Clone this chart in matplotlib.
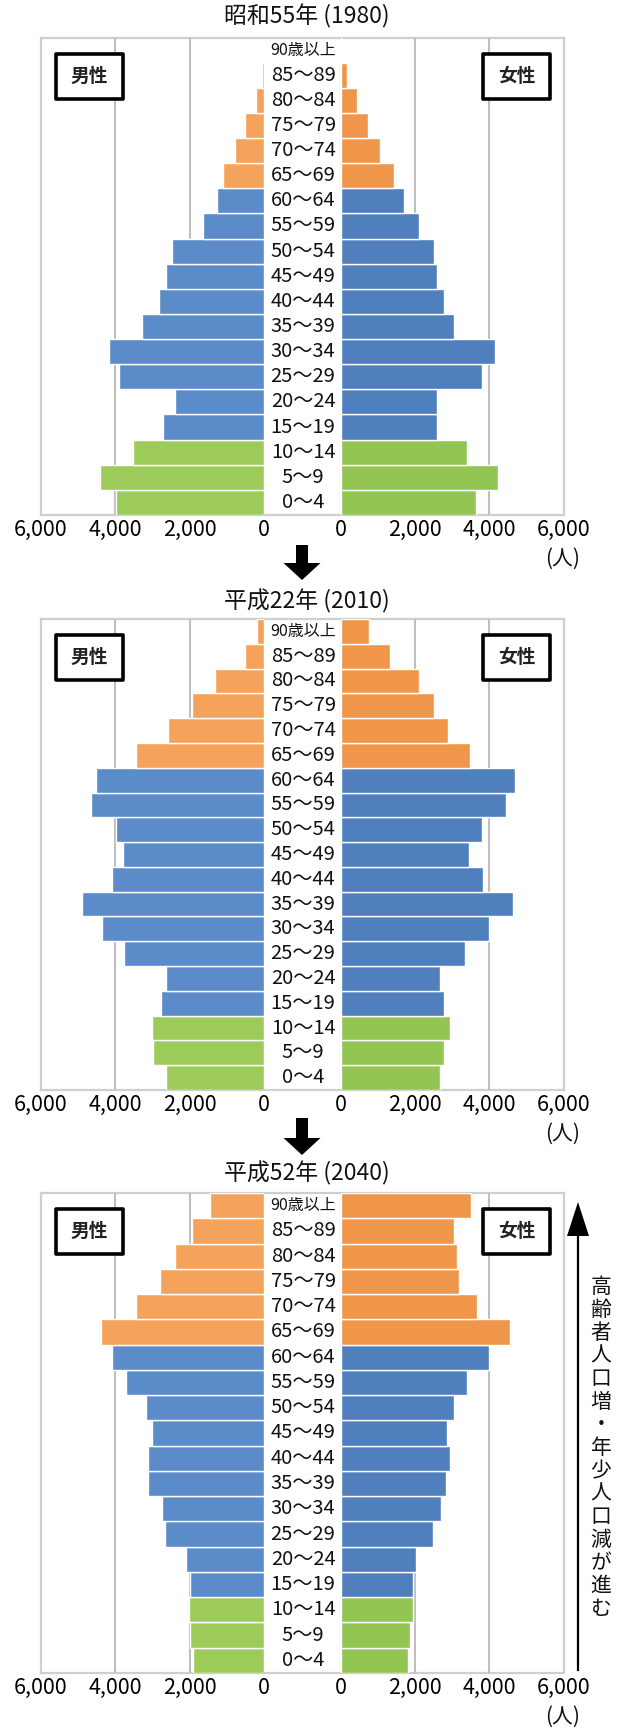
import matplotlib
matplotlib.use("Agg")
import matplotlib.pyplot as plt
from matplotlib.patches import Rectangle, Polygon
from matplotlib.transforms import blended_transform_factory

plt.rcParams['font.family'] = ['Noto Sans CJK JP', 'DejaVu Sans']

# ---------------- data ----------------
ages = ["0～4", "5～9", "10～14", "15～19", "20～24", "25～29", "30～34", "35～39",
        "40～44", "45～49", "50～54", "55～59", "60～64", "65～69", "70～74",
        "75～79", "80～84", "85～89", "90歳以上"]

titles = ["昭和55年 (1980)", "平成22年 (2010)", "平成52年 (2040)"]

male_1980 = [3970, 4390, 3530, 2710, 2390, 3890, 4170, 3280, 2820, 2620,
             2460, 1650, 1260, 1090, 790, 500, 210, 50, 10]
female_1980 = [3640, 4230, 3390, 2580, 2580, 3790, 4140, 3050, 2770, 2580,
               2520, 2110, 1710, 1420, 1060, 740, 420, 170, 30]

male_2010 = [2630, 2980, 3010, 2770, 2630, 3760, 4340, 4880, 4090, 3780,
             3970, 4640, 4500, 3440, 2590, 1940, 1310, 510, 190]
female_2010 = [2670, 2780, 2940, 2780, 2670, 3350, 3990, 4630, 3840, 3450,
               3800, 4440, 4700, 3480, 2890, 2520, 2090, 1330, 760]

male_2040 = [1900, 1990, 2010, 2000, 2090, 2650, 2750, 3110, 3110, 3010,
             3180, 3700, 4070, 4370, 3440, 2790, 2390, 1940, 1440]
female_2040 = [1800, 1870, 1930, 1930, 2020, 2490, 2700, 2840, 2950, 2860,
               3040, 3400, 3980, 4550, 3680, 3180, 3120, 3040, 3510]

male_data = [male_1980, male_2010, male_2040]
female_data = [female_1980, female_2010, female_2040]

xticks = [0, 2000, 4000, 6000]
xtick_labels = ["0", "2,000", "4,000", "6,000"]

side_note = "高齢者人口増・年少人口減が進む"

# ---------------- style ----------------
male_colors = {"young": "#9DCB5A", "work": "#5B8BC8", "old": "#F5A25A"}
female_colors = {"young": "#93C552", "work": "#4F80BD", "old": "#F0964A"}


def group(i):
    if i <= 2:
        return "young"
    if i <= 12:
        return "work"
    return "old"


W, H = 619, 1732
fig = plt.figure(figsize=(W / 100, H / 100), dpi=100)
inch = fig.dpi_scale_trans


def P(x, y):
    return (x / 100, (H - y) / 100)


def add_ax(x0, y0, x1, y1, **kw):
    return fig.add_axes([x0 / W, 1 - y1 / H, (x1 - x0) / W, (y1 - y0) / H], **kw)


box_left, box_right = 40.5, 563.5
male_zero, female_zero = 264, 341
tops = [37.5, 619, 1193]
bottoms = [515, 1090, 1673]
title_y = [16, 601, 1173]
grid_c = "#BFBFBF"
border_c = "#CFCFCF"

for k in range(3):
    top, bot = tops[k], bottoms[k]
    # background box
    bg = add_ax(box_left, top, box_right, bot)
    bg.set_xticks([]); bg.set_yticks([])
    for s in bg.spines.values():
        s.set_color(border_c); s.set_linewidth(1.6)
    bg.set_zorder(0)

    axm = add_ax(box_left, top, male_zero, bot)
    axf = add_ax(female_zero, top, box_right, bot)
    for ax, vals, cols in ((axm, male_data[k], male_colors), (axf, female_data[k], female_colors)):
        ax.patch.set_alpha(0)
        ax.set_zorder(1)
        for s in ax.spines.values():
            s.set_visible(False)
        ax.set_ylim(-0.5, len(ages) - 0.5)
        ax.set_yticks([])
        colors = [cols[group(i)] for i in range(len(ages))]
        ax.barh(range(len(ages)), vals, height=1.0, color=colors,
                edgecolor="white", linewidth=1.0, zorder=2)
        for g in (2000, 4000):
            ax.axvline(g, color=grid_c, lw=1.5, zorder=1)
        ax.set_xticks(xticks)
        ax.set_xticklabels(xtick_labels, fontsize=15.5)
        ax.tick_params(axis="x", length=0, pad=3)
    axm.set_xlim(6000, 0)
    axf.set_xlim(0, 6000)

    # age labels in centre column
    tr = blended_transform_factory(fig.transFigure, axm.transData)
    for i, lab in enumerate(ages):
        fs = 11.5 if i == len(ages) - 1 else 14.5
        fig.text((male_zero + female_zero) / 2 / W + 0.001, i, lab, transform=tr,
                 ha="center", va="center", fontsize=fs, color="#111111")

    # title
    fig.text(307 / W, 1 - title_y[k] / H, titles[k], ha="center", va="center",
             fontsize=16.5, color="#111111")

    # unit
    fig.text(563 / W, 1 - (bot + 44) / H, "(人)", ha="center", va="center",
             fontsize=15, color="#111111")

    # sex label boxes
    for (x0, x1, lab) in ((56, 123, "男性"), (483, 550, "女性")):
        y0, y1 = top + 16, top + 61
        r = Rectangle(P(x0, y1), (x1 - x0) / 100, (y1 - y0) / 100, transform=inch,
                      facecolor="white", edgecolor="black", linewidth=2.6,
                      joinstyle="round", zorder=5)
        fig.add_artist(r)
        fig.text((x0 + x1) / 2 / W, 1 - (y0 + y1) / 2 / H, lab, ha="center",
                 va="center", fontsize=13.5, fontweight="bold", color="#222222", zorder=6)

# down arrows between panels
for (ys, yb, yt) in ((545, 563, 580), (1118, 1138, 1155)):
    cx = 302
    pts = [P(cx - 6, ys), P(cx + 6, ys), P(cx + 6, yb), P(cx + 18.5, yb),
           P(cx, yt), P(cx - 18.5, yb), P(cx - 6, yb)]
    fig.add_artist(Polygon(pts, closed=True, transform=inch, facecolor="black",
                           edgecolor="none"))

# right side vertical arrow
ax_x = 578
fig.add_artist(plt.Line2D([ax_x / 100, ax_x / 100], [(H - 1670) / 100, (H - 1232) / 100],
                          transform=inch, color="black", lw=1.6))
fig.add_artist(Polygon([P(ax_x - 11, 1236), P(ax_x + 11, 1236), P(ax_x, 1202)],
                       closed=True, transform=inch, facecolor="black", edgecolor="none"))

for i, ch in enumerate(side_note):
    yc = 1287 + 23 * i
    fig.text(601 / W, 1 - yc / H, ch, ha="center", va="center", fontsize=15,
             color="#111111")

fig.savefig("out.png", dpi=100)
